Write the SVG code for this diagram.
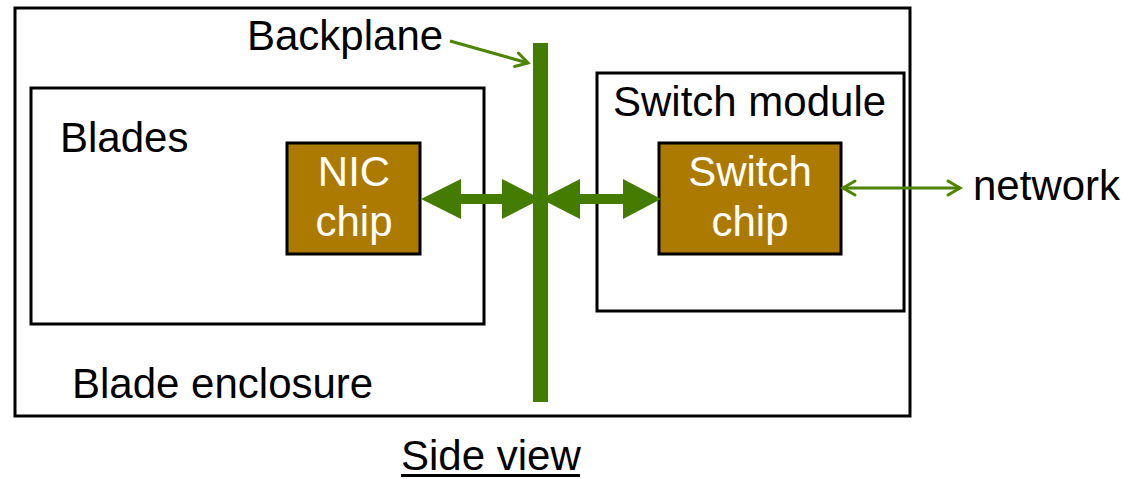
<svg xmlns="http://www.w3.org/2000/svg" width="1128" height="479" viewBox="0 0 1128 479">
<style>
.box{fill:#fff;stroke:#000;stroke-width:3}
.chip{fill:#AD7A00;stroke:#000;stroke-width:3}
.t{font-family:"Liberation Sans",Arial,sans-serif;font-size:42px;fill:#000}
.w{fill:#fff;text-anchor:middle}
.thin{stroke:#4D8400;stroke-width:3;fill:none}
</style>
<defs>
<marker id="open" viewBox="0 0 20 20" refX="17" refY="10" markerWidth="20" markerHeight="20" markerUnits="userSpaceOnUse" orient="auto-start-reverse">
<path d="M5,3 L17,10 L5,17" fill="none" stroke="#4D8400" stroke-width="3" stroke-linecap="round"/>
</marker>
</defs>
<g id="enclosure">
<rect class="box" x="15" y="8" width="895" height="408"/>
<text class="t" x="72" y="398">Blade enclosure</text>
</g>
<g id="blades">
<rect class="box" x="31" y="88" width="453" height="236"/>
<text class="t" x="60" y="152">Blades</text>
</g>
<g id="switch-module">
<rect class="box" x="597" y="73" width="307" height="238"/>
<text class="t" x="613" y="116">Switch module</text>
</g>
<g id="nic-chip">
<rect class="chip" x="287" y="143" width="133" height="111"/>
<text class="t w" x="354" y="186">NIC</text>
<text class="t w" x="354" y="236">chip</text>
</g>
<g id="switch-chip">
<rect class="chip" x="659" y="143" width="182" height="111"/>
<text class="t w" x="750" y="186">Switch</text>
<text class="t w" x="750" y="236">chip</text>
</g>
<g id="connectors">
<path d="M421,199 L461,179 L461,194 L502,194 L502,179 L541,199 L502,219 L502,204 L461,204 L461,219 Z" fill="#437C00"/>
<path d="M541,199 L580,179 L580,194 L623,194 L623,179 L661,199 L623,219 L623,204 L580,204 L580,219 Z" fill="#437C00"/>
<line class="thin" x1="843" y1="188" x2="960" y2="188" marker-start="url(#open)" marker-end="url(#open)"/>
<line class="thin" x1="450" y1="41" x2="528" y2="63" marker-end="url(#open)"/>
</g>
<g id="backplane">
<rect x="533" y="43" width="15" height="359" fill="#437C00"/>
<text class="t" x="247" y="50">Backplane</text>
</g>
<g id="network">
<text class="t" x="973" y="200">network</text>
</g>
<g id="caption">
<text class="t" x="401" y="470">Side view</text>
<rect x="401" y="474" width="179" height="3" fill="#000"/>
</g>
</svg>
